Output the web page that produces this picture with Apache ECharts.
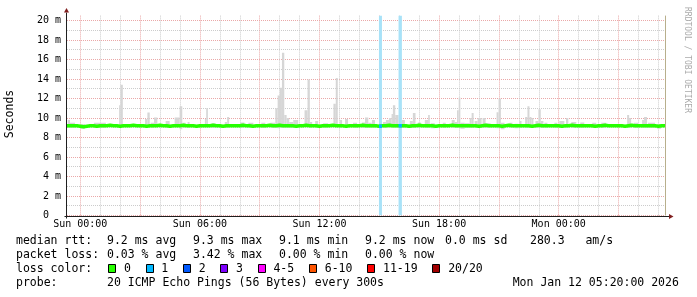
<!DOCTYPE html>
<html><head><meta charset="utf-8">
<script src="https://cdn.jsdelivr.net/npm/echarts@6/dist/echarts.min.js"></script>
<style>html,body{margin:0;padding:0;background:#fff}#c{width:697px;height:297px}</style>
</head><body><div id="c"></div>
<script>
// ---- DATA ----
// x = minutes since graph start (Sat Jan 10 23:20), graph end Mon Jan 12 05:20
const xMin = 0, xMax = 1800;
const yMin = 0, yMax = 20.5;
const majorXTicks = [40, 220, 400, 580, 760, 940, 1120, 1300, 1480, 1660];
const minorXTicks = [100, 160, 280, 340, 460, 520, 640, 700, 820, 880, 1000, 1060, 1180, 1240, 1360, 1420, 1540, 1600, 1720, 1780];
const labelXTicks = [40, 400, 760, 1120, 1480];
const labelXTexts = ['Sun 00:00', 'Sun 06:00', 'Sun 12:00', 'Sun 18:00', 'Mon 00:00'];
const majorYTicks = [0, 2, 4, 6, 8, 10, 12, 14, 16, 18, 20];
const minorYTicks = [1, 3, 5, 7, 9, 11, 13, 15, 17, 19];
const yUnit = ' m';

// median rtt (ms), one value per 10 minutes from graph start
const medianStep = 10;
const median = [
  9.2,9.2,9.2,9.15,9.1,9.15,  9.2,9.2,9.15,9.2,9.2,9.2,   9.25,9.2,9.2,9.15,9.2,9.2,
  9.2,9.25,9.2,9.2,9.2,9.15,  9.2,9.2,9.2,9.25,9.2,9.2,   9.15,9.2,9.2,9.2,9.25,9.2,
  9.2,9.2,9.15,9.2,9.2,9.2,   9.2,9.25,9.2,9.2,9.15,9.2,  9.2,9.2,9.2,9.2,9.25,9.2,
  9.2,9.15,9.2,9.2,9.2,9.2,   9.25,9.2,9.2,9.25,9.2,9.2,  9.2,9.2,9.15,9.2,9.2,9.25,
  9.2,9.2,9.2,9.15,9.2,9.2,   9.2,9.25,9.2,9.2,9.2,9.15,  9.2,9.2,9.2,9.2,9.25,9.2,
  9.2,9.2,9.2,9.15,9.2,9.2,   9.25,9.2,9.2,9.2,9.2,9.2,   9.15,9.2,9.2,9.25,9.2,9.2,
  9.2,9.2,9.15,9.2,9.2,9.2,   9.2,9.25,9.2,9.2,9.2,9.2,   9.2,9.2,9.2,9.15,9.2,9.25,
  9.2,9.2,9.2,9.2,9.15,9.2,   9.25,9.2,9.2,9.2,9.2,9.2,   9.2,9.15,9.2,9.25,9.2,9.2,
  9.2,9.2,9.2,9.2,9.15,9.2,   9.2,9.25,9.2,9.2,9.2,9.2,   9.2,9.2,9.15,9.2,9.2,9.25,
  9.2,9.2,9.2,9.2,9.2,9.15,   9.2,9.25,9.2,9.2,9.2,9.2,   9.2,9.2,9.2,9.15,9.2,9.2
];
// smoke (ping spread): [startMin, endMin, low ms, high ms]
const smoke = [
  [2,9,9.0,9.8],[9,24,9.0,9.5],[42,54,8.9,9.35],[81,117,9.0,9.5],[157,161,9.1,11.3],[161,168,9.1,13.4],
  [235,242,9.1,9.9],[242,249,9.1,10.55],[252,262,9.0,9.5],[262,272,9.1,10.05],[297,309,9.0,9.7],
  [324,339,9.1,10.05],[339,347,8.85,11.2],[348,357,9.0,9.5],[363,369,9.0,9.6],[415,419,9.1,9.9],
  [419,424,9.1,11.0],[435,447,9.0,9.45],[475,482,9.0,9.6],[482,488,9.0,10.1],[522,534,9.0,9.55],
  [546,561,9.0,9.5],[585,597,9.0,9.5],[612,627,9.0,9.5],[627,634,9.0,11.0],[634,641,8.95,12.3],
  [641,647,9.0,13.1],[647,654,9.0,16.7],[654,661,9.0,10.3],[661,669,9.0,10.0],[669,681,9.0,9.6],
  [681,696,9.0,9.8],[715,724,9.1,10.8],[724,731,9.1,13.95],[731,738,9.0,9.6],[747,756,9.0,9.7],
  [771,786,9.0,9.45],[802,809,9.1,11.45],[809,815,9.1,14.1],[822,828,9.0,9.8],[837,846,9.0,9.9],
  [861,873,9.0,9.5],[888,897,9.0,9.55],[897,907,9.0,10.05],[907,917,9.0,9.5],[918,927,9.0,9.8],
  [951,960,9.0,9.6],[960,969,9.0,9.8],[969,977,9.0,10.0],[977,981,9.0,10.4],[981,988,9.0,11.3],
  [988,998,9.0,10.3],[1008,1017,9.0,9.8],[1032,1041,9.0,9.7],[1041,1049,9.0,10.5],[1056,1065,9.0,9.55],
  [1077,1087,9.0,9.8],[1087,1092,9.0,10.3],[1095,1107,8.95,9.45],[1131,1140,9.0,9.5],[1158,1167,9.0,9.8],
  [1167,1174,9.0,9.6],[1174,1179,9.0,10.8],[1179,1184,9.0,12.1],[1184,1197,8.9,9.5],[1197,1212,9.0,9.45],
  [1212,1218,9.0,10.0],[1218,1224,9.0,10.5],[1227,1236,9.0,9.7],[1236,1248,9.0,10.0],[1251,1260,9.0,10.0],
  [1260,1275,9.0,9.45],[1293,1299,8.95,10.6],[1299,1306,8.95,12.0],[1306,1317,8.85,9.5],[1332,1341,9.0,9.5],
  [1347,1359,8.95,9.4],[1362,1368,9.0,9.7],[1379,1386,9.0,10.1],[1386,1392,9.0,11.2],[1392,1398,9.0,10.1],
  [1398,1404,9.0,10.0],[1410,1419,9.0,9.7],[1419,1426,9.0,10.9],[1426,1434,9.0,9.7],[1437,1446,9.0,9.5],
  [1467,1476,9.0,9.5],[1482,1497,9.0,9.7],[1502,1509,9.0,10.0],[1518,1533,9.0,9.6],[1545,1557,9.0,9.55],
  [1581,1593,9.0,9.5],[1608,1623,9.0,9.5],[1686,1692,9.0,10.3],[1692,1698,9.0,10.0],[1707,1719,9.0,9.5],
  [1731,1737,9.0,9.8],[1737,1746,9.0,10.1],[1749,1770,9.0,9.5],[1776,1788,8.9,9.35]
];
// packet loss events: [startMin, endMin, loss level index]
const lossEvents = [[939, 948, 1], [998, 1008, 1]];
const lossLabels = ['0', '1', '2', '3', '4-5', '6-10', '11-19', '20/20'];
const lossColors = ['#26ff00', '#00b8ff', '#0059ff', '#7e00ff', '#ff00ff', '#ff5500', '#ff0000', '#a10000'];
const lossBackColors = ['#26ff00', '#a8e2f8', '#0059ff', '#7e00ff', '#ff00ff', '#ff5500', '#ff0000', '#a10000'];
const rowNames = ['median rtt:', 'packet loss:', 'loss color:', 'probe:'];
const rttStats = ['9.2 ms avg', '9.3 ms max', '9.1 ms min', '9.2 ms now', '0.0 ms sd', '280.3   am/s'];
const lossStats = ['0.03 % avg', '3.42 % max', '0.00 % min', '0.00 % now'];
const probeText = '20 ICMP Echo Pings (56 Bytes) every 300s';
const stampText = 'Mon Jan 12 05:20:00 2026';
const yAxisTitle = 'Seconds';
const watermark = 'RRDTOOL / TOBI OETIKER';

// ---- CHART ----
const FONT = "'DejaVu Sans Mono', monospace";
const minorStyle = {color: '#cccccc', width: 1, type: [1, 1]};
const majorStyle = {color: '#eaa8a8', width: 1, type: [1, 1]};
const G = {left: 67, right: 32, top: 15.6, bottom: 81.5};

const medianData = median.map((v, i) => [i * medianStep, v]);
medianData.push([xMax, median[median.length - 1]]);
const medianAt = t => median[Math.min(median.length - 1, Math.floor(t / medianStep))];

function xAx(pos, ticks, style, split, labels) {
  return {
    type: 'value', min: xMin, max: xMax, position: pos,
    axisLine: {show: false},
    axisTick: {show: true, customValues: ticks, length: 2, lineStyle: style},
    axisLabel: labels ? {
      show: true, customValues: labelXTicks, margin: 4, fontFamily: FONT, fontSize: 10, color: '#000',
      formatter: v => labelXTexts[labelXTicks.indexOf(v)] || ''
    } : {show: false},
    splitLine: {show: split, lineStyle: style}
  };
}
function yAx(pos, ticks, style, split, labels) {
  return {
    type: 'value', min: yMin, max: yMax, position: pos,
    axisLine: {show: false},
    axisTick: {show: true, customValues: ticks, length: 2, lineStyle: style},
    axisLabel: labels ? {
      show: true, customValues: majorYTicks, margin: 6, fontFamily: FONT, fontSize: 10, color: '#000',
      formatter: v => v === 0 ? '0  ' : v + yUnit
    } : {show: false},
    splitLine: {show: split, lineStyle: style}
  };
}

function rectRender(colorFn) {
  return function (params, api) {
    const a = api.coord([api.value(0), api.value(3)]);
    const b = api.coord([api.value(1), api.value(2)]);
    return {type: 'rect', shape: {x: a[0], y: a[1], width: b[0] - a[0], height: b[1] - a[1]},
      style: {fill: colorFn(params.dataIndex)}};
  };
}

const chart = echarts.init(document.getElementById('c'), null, {renderer: 'canvas'});

// legend rows
const CW = 6.96;
const rowY = [241, 255, 269, 283];
const statX = [107, 193, 279, 365, 445, 530];
const graphics = [];
function txt(x, y, s, extra) {
  graphics.push(Object.assign({type: 'text', x: x, y: y, silent: true,
    style: {text: s, font: "11.5px 'DejaVu Sans Mono', monospace", fill: '#000', textVerticalAlign: 'middle'}}, extra || {}));
}
rowNames.forEach((n, i) => txt(16, rowY[i], n));
rttStats.forEach((s, i) => txt(statX[i], rowY[0], s));
lossStats.forEach((s, i) => txt(statX[i], rowY[1], s));
txt(statX[0], rowY[3], probeText);
txt(512.7, rowY[3], stampText);
let bx = 108.3;
lossLabels.forEach((l, i) => {
  graphics.push({type: 'rect', silent: true, shape: {x: Math.round(bx) + 0.5, y: rowY[2] - 4.5, width: 7, height: 8},
    style: {fill: lossColors[i], stroke: '#000', lineWidth: 1}});
  txt(bx + 15.7, rowY[2], l);
  bx = bx + 15.7 + l.length * CW + 14.7;
});
// y axis title & watermark
graphics.push({type: 'text', x: 10, y: 114, rotation: Math.PI / 2, silent: true,
  style: {text: yAxisTitle, font: "11.5px 'DejaVu Sans Mono', monospace", fill: '#000', textAlign: 'center', textVerticalAlign: 'middle'}});
graphics.push({type: 'text', x: 687.5, y: 60, rotation: -Math.PI / 2, silent: true,
  style: {text: watermark, font: "8px 'DejaVu Sans Mono', monospace", fill: '#aaaaaa', textAlign: 'center', textVerticalAlign: 'middle'}});

const option = {
  backgroundColor: '#ffffff',
  animation: false,
  grid: G,
  xAxis: [
    xAx('bottom', majorXTicks, majorStyle, true, true),
    xAx('bottom', minorXTicks, minorStyle, true, false),
    xAx('top', majorXTicks, majorStyle, false, false),
    xAx('top', minorXTicks, minorStyle, false, false)
  ],
  yAxis: [
    yAx('left', majorYTicks, majorStyle, true, true),
    yAx('left', minorYTicks, minorStyle, true, false),
    yAx('right', majorYTicks, majorStyle, false, false),
    yAx('right', minorYTicks, minorStyle, false, false)
  ],
  series: [
    {type: 'custom', name: 'smoke', z: 2, clip: true, data: smoke, encode: {x: [0, 1], y: [2, 3]},
      renderItem: rectRender(() => '#d6d6d6')},
    {type: 'custom', name: 'lossbar', z: 3, clip: true,
      data: lossEvents.map(e => [e[0], e[1], yMin, yMax]), encode: {x: [0, 1], y: [2, 3]},
      renderItem: rectRender(i => lossBackColors[lossEvents[i][2]])},
    {type: 'line', name: 'median', z: 4, data: medianData, step: 'end', symbol: 'none',
      lineStyle: {color: lossColors[0], width: 3.5}, clip: true,
      markLine: {silent: true, symbol: ['none', 'none'], label: {show: false},
        lineStyle: {color: '#b8af8c', width: 1, type: 'solid'}, data: [{xAxis: xMax}]}},
    {type: 'custom', name: 'lossmedian', z: 5, clip: true,
      data: lossEvents.map(e => [e[0], e[1], medianAt(e[0])]), encode: {x: [0, 1], y: 2},
      renderItem: function (params, api) {
        const a = api.coord([api.value(0), api.value(2)]);
        const b = api.coord([api.value(1), api.value(2)]);
        return {type: 'line', shape: {x1: a[0], y1: a[1], x2: b[0], y2: b[1]},
          style: {stroke: lossColors[lossEvents[params.dataIndex][2]], lineWidth: 3.5}};
      }}
  ],
  graphic: graphics
};
chart.setOption(option);

// axis lines with arrows (decoration around the grid rect)
const r = chart.getModel().getComponent('grid').coordinateSystem.getRect();
const ax = Math.round(r.x) - 0.5, ay = Math.round(r.y + r.height) + 0.5;
chart.setOption({graphic: graphics.concat([
  {type: 'line', silent: true, z: 10, shape: {x1: ax - 2, y1: ay, x2: r.x + r.width + 4, y2: ay}, style: {stroke: '#1f1f1f', lineWidth: 1}},
  {type: 'line', silent: true, z: 10, shape: {x1: ax, y1: ay + 2, x2: ax, y2: r.y - 3}, style: {stroke: '#1f1f1f', lineWidth: 1}},
  {type: 'polygon', silent: true, z: 10, shape: {points: [[r.x + r.width + 4, ay - 2.5], [r.x + r.width + 8.5, ay], [r.x + r.width + 4, ay + 2.5]]}, style: {fill: '#801f1f'}},
  {type: 'polygon', silent: true, z: 10, shape: {points: [[ax - 2.5, r.y - 3], [ax, r.y - 7.5], [ax + 2.5, r.y - 3]]}, style: {fill: '#801f1f'}}
])});
</script></body></html>
